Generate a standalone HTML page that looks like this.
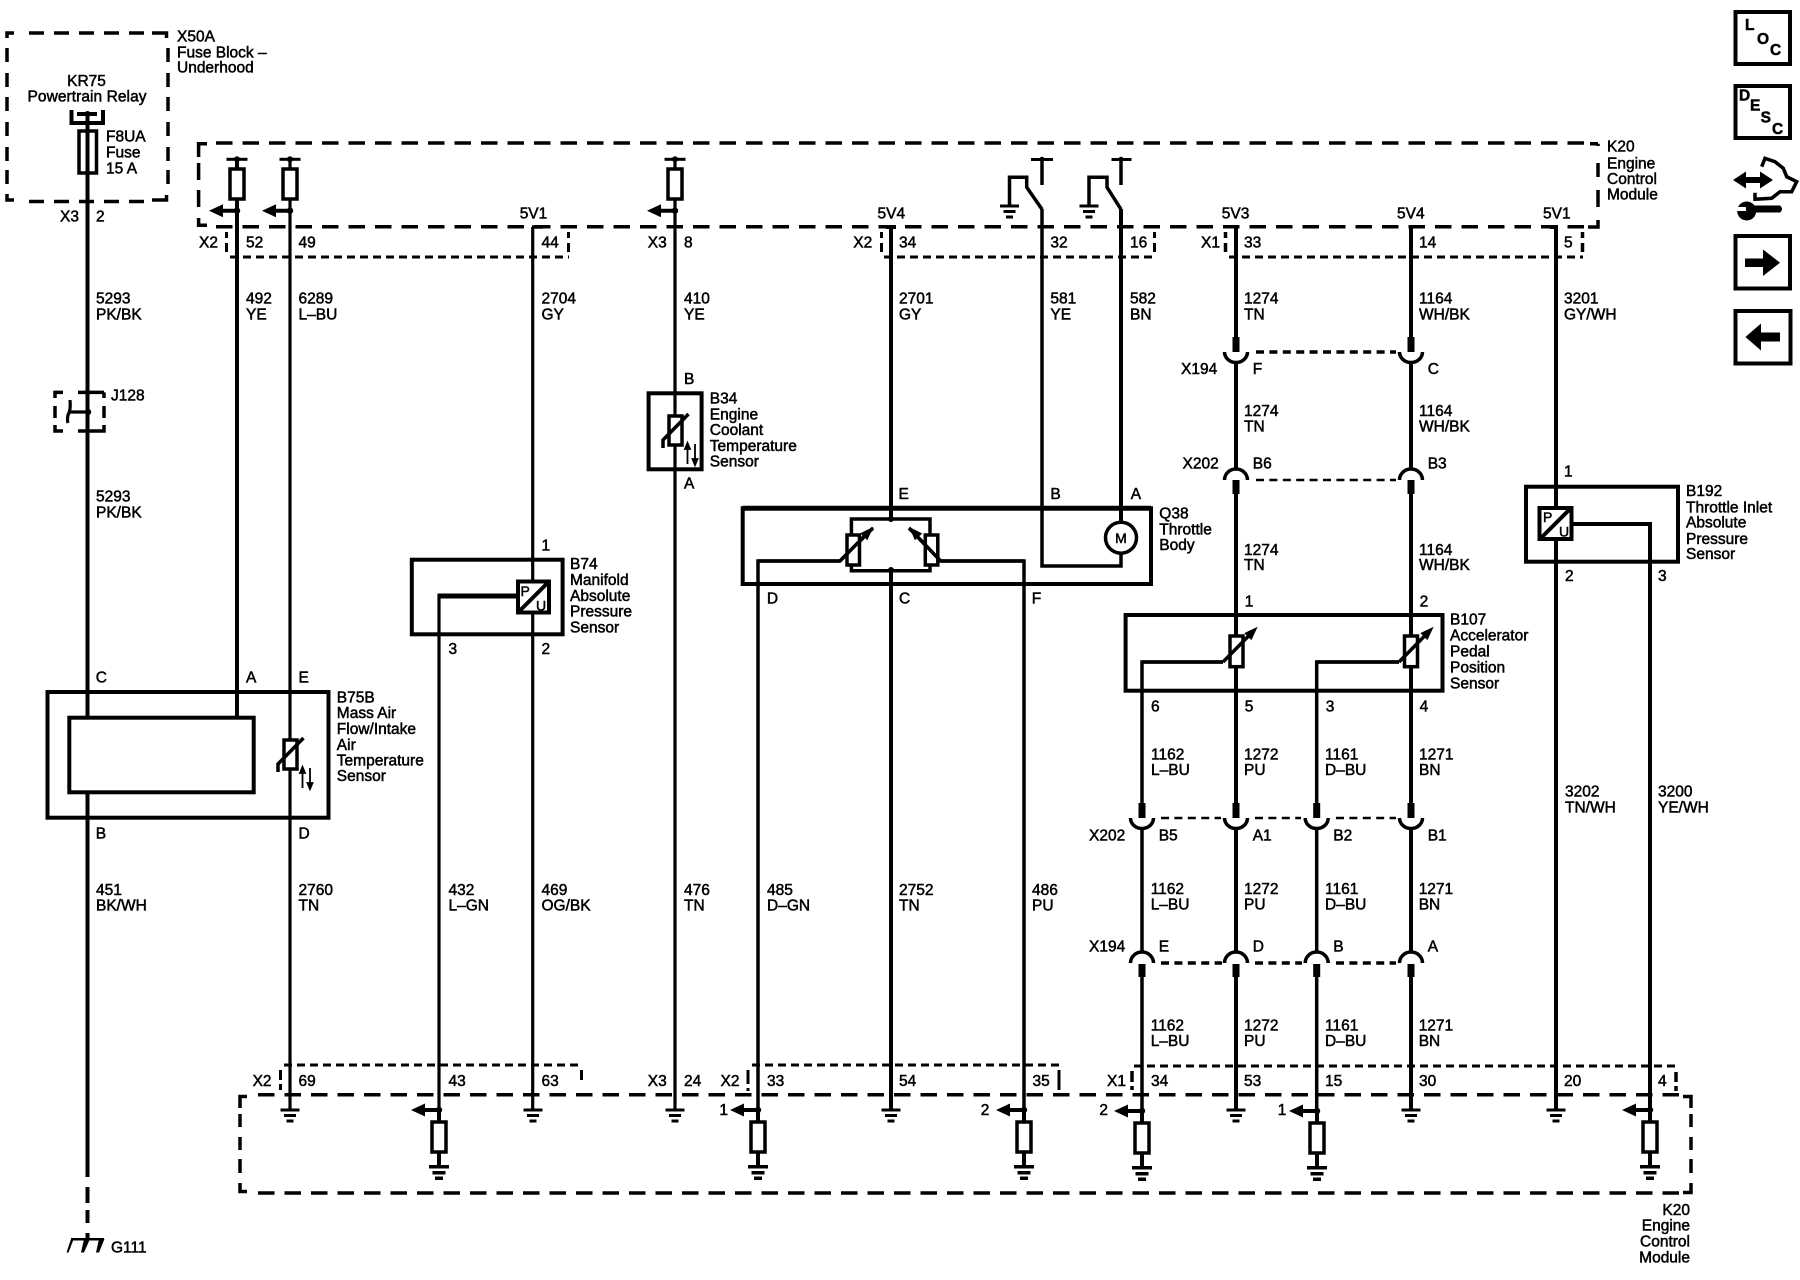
<!DOCTYPE html>
<html><head><meta charset="utf-8"><style>
html,body{margin:0;padding:0;background:#fff}
svg{display:block}
text{font:15.5px "Liberation Sans",sans-serif;fill:#000;stroke:#000;stroke-width:.5}
.w{fill:none;stroke:#000;stroke-width:4}
.t{fill:none;stroke:#000;stroke-width:3.2}
.d{fill:none;stroke:#000;stroke-width:3.5}
.s{fill:none;stroke:#000;stroke-width:3;stroke-dasharray:8 5}
.sv{fill:none;stroke:#000;stroke-width:3}
.h{fill:none;stroke:#000;stroke-width:3.5;stroke-dasharray:8 5.4}
.b{fill:#fff;stroke:#000;stroke-width:3.5}
.o{fill:none;stroke:#000;stroke-width:4}
.k{fill:#000}
</style></head><body>
<svg width="1800" height="1280" viewBox="0 0 1800 1280" xmlns="http://www.w3.org/2000/svg">
<defs>
<g id="g"><rect x="-9.5" y="-1.5" width="19" height="3"/><rect x="-6" y="4" width="12" height="3"/><rect x="-3.5" y="9.5" width="7" height="3"/></g>
<g id="a"><path d="M-28 0L-14 -6.5V-2H0V2H-14V6.5Z"/><circle r="3.2"/></g>
<g id="rg"><use href="#a"/><path d="M0 0V56" class="w"/><rect x="-7" y="12" width="14" height="30" class="b"/><rect x="-10" y="55" width="20" height="3.5"/><rect x="-6.5" y="61" width="13" height="3.5"/><rect x="-4" y="66.5" width="8" height="3.5"/></g>
<g id="f"><rect x="-10.5" y="-1.5" width="21" height="3"/><circle r="3"/><rect x="-7" y="9.7" width="14" height="30" class="b"/><use href="#a" y="51.4"/></g>
<g id="cup"><path d="M-11.5 0A11.5 10.5 0 0 0 11.5 0" class="d"/></g>
<g id="arch"><path d="M-11.5 0A11.5 11 0 0 1 11.5 0" class="d"/></g>
<g id="th"><rect x="-6.5" y="0" width="13" height="29" class="b"/><path d="M-12.5 32V24L13 -2" class="d"/><path d="M12 30V48M9.5 33L12 27L14.5 33Z M19.5 28V46M17 43L19.5 49L22 43Z" stroke="#000" stroke-width="1.8" fill="#000"/></g>
</defs>

<!-- X50A -->
<path class="d" d="M7 38V33H14M152 33H166.5V38M7 48V62M7 73V87M7 97V111M7 122V136M7 147V161M7 170V184M7 194V200H14M152 200H166.5V195M168 48V62M168 73V87M168 97V111M168 122V136M168 147V161M168 170V184"/>
<path class="d" stroke-dasharray="15 10" d="M29 33H150M29 201.5H150"/>
<text x="177" y="41.7">X50A</text><text x="177" y="57.3">Fuse Block –</text><text x="177" y="72.7">Underhood</text>
<text x="86.5" y="86" text-anchor="middle">KR75</text><text x="87" y="101.7" text-anchor="middle" textLength="119">Powertrain Relay</text>
<path class="w" d="M71.5 110V123H103V110"/><path class="w" d="M77 114H97"/><circle cx="87.5" cy="114" r="3"/>
<rect x="79" y="131" width="17.5" height="42" fill="none" stroke="#000" stroke-width="3.5"/>
<text x="106" y="141.7">F8UA</text><text x="106" y="157.7">Fuse</text><text x="106" y="173.3">15 A</text>
<text x="60" y="221.7">X3</text><text x="96" y="221.7">2</text>

<!-- K20 top -->
<path class="d" d="M198.6 157V143.7H207M198.6 163V180M198.6 190V207M198.6 218V225.3H207M1598 143.7H1590M1598 146V143.7M1598 163V177M1598 190V207M1598 220V227H1588"/>
<path class="d" stroke-dasharray="16.5 10" d="M216 143H1588M216 226.7H1588"/>
<text x="1607" y="151.7">K20</text><text x="1607" y="168.3">Engine</text><text x="1607" y="184">Control</text><text x="1607" y="199.3">Module</text>

<!-- top connector strips -->
<path class="s" d="M230 257H569M884 257H1155M1229 257H1583"/>
<path class="sv" d="M226.5 232V238M226.5 243V252M568.5 232V238M568.5 243V252M881.5 232V238M881.5 243V252M1154.5 232V238M1154.5 243V252"/>
<path class="d" d="M1225.5 232V238M1225.5 243V252M1582.5 232V238M1582.5 243V252"/>

<text x="199" y="247.3">X2</text><text x="246" y="247.3">52</text><text x="298.5" y="247.3">49</text><text x="541.5" y="247.3">44</text>
<text x="519.7" y="218.3">5V1</text><text x="877.5" y="218.3">5V4</text><text x="1221.8" y="218.3">5V3</text><text x="1397" y="218.3">5V4</text><text x="1543" y="218.3">5V1</text>
<text x="647.8" y="247.3">X3</text><text x="684" y="247.3">8</text><text x="853.3" y="247.3">X2</text><text x="899" y="247.3">34</text><text x="1050.4" y="247.3">32</text><text x="1130" y="247.3">16</text>
<text x="1201" y="247.3">X1</text><text x="1244" y="247.3">33</text><text x="1419" y="247.3">14</text><text x="1564" y="247.3">5</text>

<!-- main vertical wires -->
<path class="w" d="M87.5 114V1177M87.5 1187V1203M87.5 1210V1223M87.5 1233V1239"/>
<path class="w" d="M237 159V718"/>
<path class="t" d="M290 159V740M290 769V1110"/>
<path class="t" d="M532.7 227V1110"/>
<path class="d" d="M532 227H543"/>
<path class="t" d="M439 1110V596"/>
<path class="w" style="stroke-width:5" d="M437.5 596H517"/>
<path class="t" d="M675 159V1110"/>
<path class="w" d="M891 227V519M891 570V1110M886 227H896"/>
<path class="d" d="M758 1110V561H840L873 528"/>
<path class="d" d="M1024 1110V561H940.6L909 528"/>
<path class="d" d="M1042 209V566H1121V554"/>
<path class="d" d="M1042 159V185M1121 159V185"/>
<path class="w" d="M1121 209V522"/>
<path class="w" d="M1236 227V337M1236 362V468M1236 494V803M1236 829V952M1236 977V1110"/>
<path class="w" d="M1411 227V337M1411 362V468M1411 494V803M1411 829V952M1411 977V1110"/>
<path class="d" d="M1142 803V662H1223M1142 829V952M1142 977V1110"/>
<path class="d" d="M1316.7 803V662H1399M1316.7 829V952M1316.7 977V1110"/>
<path class="w" d="M1556 227V1110M1550 227H1558"/>
<path class="w" d="M1650 1122V524H1573"/>

<!-- top fuses -->
<use href="#f" x="237" y="159.3"/><use href="#f" x="290" y="159.3"/><use href="#f" x="675" y="159.3"/>

<!-- switches -->
<rect x="1031" y="158" width="22" height="3"/><circle cx="1042" cy="159.3" r="2.5"/>
<rect x="1111.5" y="158" width="20" height="3"/><circle cx="1121" cy="159.3" r="2.5"/>
<path class="d" d="M1009.5 205V177.3H1026.7V187.3L1042 209.3"/>
<path class="d" d="M1089 205V177.3H1107V187.3L1121 209.3"/>
<use href="#g" x="1009.5" y="206"/><use href="#g" x="1089" y="206"/>

<!-- wire labels upper -->
<text x="96" y="303.3">5293</text><text x="96" y="319.3">PK/BK</text>
<text x="246" y="303.3">492</text><text x="246" y="319.3">YE</text>
<text x="298.5" y="303.3">6289</text><text x="298.5" y="319.3">L–BU</text>
<text x="541.5" y="303.3">2704</text><text x="541.5" y="319.3">GY</text>
<text x="684" y="303.3">410</text><text x="684" y="319.3">YE</text>
<text x="899" y="303.3">2701</text><text x="899" y="319.3">GY</text>
<text x="1050.4" y="303.3">581</text><text x="1050.4" y="319.3">YE</text>
<text x="1130" y="303.3">582</text><text x="1130" y="319.3">BN</text>
<text x="1244" y="303.3">1274</text><text x="1244" y="319.3">TN</text>
<text x="1419" y="303.3">1164</text><text x="1419" y="319.3">WH/BK</text>
<text x="1564" y="303.3">3201</text><text x="1564" y="319.3">GY/WH</text>

<!-- J128 -->
<path class="d" d="M55 398V392.4H63M78 392.4H96M104 392.4H96M104 392.4V398M55 406V418M104 406V418M55 425V431H63M78 431H96M104 425V431H96"/>
<circle cx="88" cy="412" r="3.2"/><path class="t" d="M88 412H69M70 400Q71 410 68 415Q67 420 68 423"/>
<text x="111" y="400.7">J128</text>
<text x="96" y="501.5">5293</text><text x="96" y="517.5">PK/BK</text>

<!-- X194/X202 upper -->
<rect x="1232.5" y="337" width="7" height="15"/><rect x="1407.5" y="337" width="7" height="15"/>
<use href="#cup" x="1236" y="352"/><use href="#cup" x="1411" y="352"/>
<path class="h" d="M1256 352H1396"/>
<text x="1181" y="374">X194</text><text x="1252.8" y="374">F</text><text x="1427.7" y="374">C</text>
<text x="1244" y="416">1274</text><text x="1244" y="431.7">TN</text>
<text x="1419" y="416">1164</text><text x="1419" y="431.7">WH/BK</text>
<use href="#arch" x="1236" y="480"/><use href="#arch" x="1411" y="480"/>
<path class="h" style="stroke-width:2.5" d="M1256 480H1396"/>
<rect x="1232.5" y="480" width="7" height="14"/><rect x="1407.5" y="480" width="7" height="14"/>
<text x="1182.5" y="468.3">X202</text><text x="1252.8" y="468.3">B6</text><text x="1427.7" y="468.3">B3</text>
<text x="1244" y="555">1274</text><text x="1244" y="570">TN</text>
<text x="1419" y="555">1164</text><text x="1419" y="570">WH/BK</text>

<!-- B34 -->
<rect x="648.6" y="393.3" width="53" height="76" class="o"/>
<use href="#th" x="675.5" y="416"/>
<text x="684" y="384">B</text><text x="684" y="488.3">A</text>
<text x="709.8" y="403.3">B34</text><text x="709.8" y="419.3">Engine</text><text x="709.8" y="435">Coolant</text><text x="709.8" y="451">Temperature</text><text x="709.8" y="466.7">Sensor</text>

<!-- B74 -->
<rect x="411.8" y="559.7" width="150.8" height="74.6" class="o"/>
<rect x="518" y="581.5" width="31" height="31" fill="#fff" stroke="#000" stroke-width="4"/>
<path class="w" d="M518 612.5L549 581.5"/>
<text x="520.5" y="596" style="font-size:14px">P</text><text x="536" y="610.5" style="font-size:14px">U</text>
<text x="541.5" y="550.7">1</text><text x="448.5" y="654">3</text><text x="541.5" y="654">2</text>
<text x="570" y="569">B74</text><text x="570" y="585">Manifold</text><text x="570" y="601">Absolute</text><text x="570" y="616.7">Pressure</text><text x="570" y="632.7">Sensor</text>

<!-- Q38 -->
<path class="o" d="M742.7 584V508.3H1151V584Z"/><path d="M742.7 508.3H1151" stroke="#000" stroke-width="5"/>
<path class="d" d="M851.4 536V519H930V536M851.4 565V570.7H930V565"/>
<circle cx="891" cy="519" r="3"/><circle cx="891" cy="570" r="3"/>
<rect x="847" y="535" width="12.5" height="30" class="b"/><rect x="925.3" y="535" width="12.5" height="30" class="b"/>
<path class="d" d="M840 561L868 532.5M940.6 561L914 533"/>
<path d="M873.6 526.7L867.3 540.2L860.3 533.2Z M909 526.7L922.2 533.5L914.9 540.3Z"/>
<path class="d" d="M758 561H840M1024 561H940.6"/>
<circle cx="1121" cy="537.7" r="15.5" fill="#fff" stroke="#000" stroke-width="3.5"/>
<text x="1121" y="543" text-anchor="middle" style="font-size:14px">M</text>
<text x="898.5" y="499">E</text><text x="1050.4" y="499">B</text><text x="1130.8" y="499">A</text>
<text x="766.9" y="603.3">D</text><text x="899" y="603.3">C</text><text x="1031.7" y="603.3">F</text>
<text x="1159.3" y="518.3">Q38</text><text x="1159.3" y="534.3">Throttle</text><text x="1159.3" y="550">Body</text>

<!-- B192 -->
<rect x="1526" y="486.7" width="152" height="75" class="o"/>
<rect x="1539.5" y="508" width="32" height="31" fill="#fff" stroke="#000" stroke-width="4"/>
<path class="w" d="M1540 539L1571 508"/>
<text x="1543" y="522" style="font-size:14px">P</text><text x="1559" y="536.5" style="font-size:14px">U</text>
<path class="d" d="M1571 524H1650"/>
<text x="1564" y="476.7">1</text><text x="1565" y="581">2</text><text x="1658" y="581">3</text>
<text x="1686" y="496">B192</text><text x="1686" y="512.3">Throttle Inlet</text><text x="1686" y="527.7">Absolute</text><text x="1686" y="544">Pressure</text><text x="1686" y="559">Sensor</text>

<!-- B107 -->
<rect x="1125.6" y="615" width="316.9" height="75.7" class="o"/>
<rect x="1230" y="636" width="13" height="30.7" class="b"/><rect x="1404.5" y="636" width="13" height="30.7" class="b"/>
<path class="d" d="M1223 662L1250 634.5M1399 662L1426 634.5"/>
<path d="M1257.7 626.7L1251.4 640.1L1244.3 633.1Z M1433.7 626.7L1427.4 640.1L1420.3 633.1Z"/>
<path class="d" d="M1142 662H1223M1316.7 662H1399"/>
<text x="1244.7" y="606.7">1</text><text x="1419.6" y="606.7">2</text>
<text x="1450" y="624.3">B107</text><text x="1450" y="640.7">Accelerator</text><text x="1450" y="656.7">Pedal</text><text x="1450" y="672.7">Position</text><text x="1450" y="688.3">Sensor</text>
<text x="1151" y="711.7">6</text><text x="1244.7" y="711.7">5</text><text x="1325.8" y="711.7">3</text><text x="1419.6" y="711.7">4</text>
<text x="1151" y="759.3">1162</text><text x="1151" y="775">L–BU</text>
<text x="1244" y="759.3">1272</text><text x="1244" y="775">PU</text>
<text x="1325" y="759.3">1161</text><text x="1325" y="775">D–BU</text>
<text x="1419" y="759.3">1271</text><text x="1419" y="775">BN</text>
<text x="1565" y="796.7">3202</text><text x="1565" y="812.3">TN/WH</text>
<text x="1658" y="796.7">3200</text><text x="1658" y="812.3">YE/WH</text>

<!-- X202 / X194 lower -->
<g><rect x="1138.5" y="803" width="7" height="15"/><rect x="1232.5" y="803" width="7" height="15"/><rect x="1313.2" y="803" width="7" height="15"/><rect x="1407.5" y="803" width="7" height="15"/>
<use href="#cup" x="1142" y="818"/><use href="#cup" x="1236" y="818"/><use href="#cup" x="1316.7" y="818"/><use href="#cup" x="1411" y="818"/></g>
<path class="h" style="stroke-width:2.5" d="M1161 818H1221M1255 818H1301M1336 818H1396"/>
<text x="1089" y="840.7">X202</text><text x="1158.7" y="840.7">B5</text><text x="1252.7" y="840.7">A1</text><text x="1333.3" y="840.7">B2</text><text x="1427.7" y="840.7">B1</text>
<text x="1150.7" y="894">1162</text><text x="1150.7" y="909.5">L–BU</text>
<text x="1244" y="894">1272</text><text x="1244" y="909.5">PU</text>
<text x="1325" y="894">1161</text><text x="1325" y="909.5">D–BU</text>
<text x="1418.7" y="894">1271</text><text x="1418.7" y="909.5">BN</text>
<text x="1089" y="951.7">X194</text><text x="1158.7" y="951.7">E</text><text x="1252.7" y="951.7">D</text><text x="1333.3" y="951.7">B</text><text x="1427.7" y="951.7">A</text>
<use href="#arch" x="1142" y="963"/><use href="#arch" x="1236" y="963"/><use href="#arch" x="1316.7" y="963"/><use href="#arch" x="1411" y="963"/>
<path class="h" d="M1161 963H1222M1255 963H1302M1336 963H1396"/>
<rect x="1138.5" y="964" width="7" height="13"/><rect x="1232.5" y="964" width="7" height="13"/><rect x="1313.2" y="964" width="7" height="13"/><rect x="1407.5" y="964" width="7" height="13"/>
<text x="1150.7" y="1030.7">1162</text><text x="1150.7" y="1046">L–BU</text>
<text x="1244" y="1030.7">1272</text><text x="1244" y="1046">PU</text>
<text x="1325" y="1030.7">1161</text><text x="1325" y="1046">D–BU</text>
<text x="1418.7" y="1030.7">1271</text><text x="1418.7" y="1046">BN</text>

<!-- B75B -->
<rect x="47.5" y="692" width="281" height="125.7" class="o"/>
<rect x="69.3" y="717.7" width="184.4" height="74.6" fill="#fff" stroke="#000" stroke-width="4"/>
<use href="#th" x="290.5" y="740"/>
<text x="95.7" y="682.7">C</text><text x="246" y="682.7">A</text><text x="298.5" y="682.7">E</text>
<text x="95.7" y="838.3">B</text><text x="298.5" y="838.3">D</text>
<text x="336.8" y="702.3">B75B</text><text x="336.8" y="718">Mass Air</text><text x="336.8" y="734">Flow/Intake</text><text x="336.8" y="750">Air</text><text x="336.8" y="765.7">Temperature</text><text x="336.8" y="781">Sensor</text>

<!-- lower wire labels -->
<text x="96" y="895">451</text><text x="96" y="910.7">BK/WH</text>
<text x="298.5" y="895">2760</text><text x="298.5" y="910.7">TN</text>
<text x="448.5" y="895">432</text><text x="448.5" y="910.7">L–GN</text>
<text x="541.5" y="895">469</text><text x="541.5" y="910.7">OG/BK</text>
<text x="684" y="895">476</text><text x="684" y="910.7">TN</text>
<text x="767" y="895">485</text><text x="767" y="910.7">D–GN</text>
<text x="899" y="895">2752</text><text x="899" y="910.7">TN</text>
<text x="1032" y="895">486</text><text x="1032" y="910.7">PU</text>

<!-- bottom strips -->
<path class="s" d="M284 1065H582M752 1065H1059M1134 1066H1676"/>
<path class="sv" d="M280.5 1070V1080M280.5 1084V1090M581.5 1070V1080M748 1070V1084M748 1088V1091M1059 1070V1090"/>
<path class="d" d="M1132 1071V1082M1132 1086V1090M1676 1072V1082M1676 1086V1091"/>
<text x="252.6" y="1086">X2</text><text x="298.5" y="1086">69</text><text x="448.5" y="1086">43</text><text x="541.5" y="1086">63</text>
<text x="647.8" y="1086">X3</text><text x="684" y="1086">24</text><text x="720.5" y="1086">X2</text><text x="767" y="1086">33</text><text x="899" y="1086">54</text><text x="1032.5" y="1086">35</text>
<text x="1107" y="1086">X1</text><text x="1151" y="1086">34</text><text x="1244" y="1086">53</text><text x="1325" y="1086">15</text><text x="1419" y="1086">30</text><text x="1564" y="1086">20</text><text x="1658" y="1086">4</text>

<!-- K20 lower -->
<path class="d" d="M240 1108V1096.5H247M240 1114V1127M240 1137V1150M240 1159V1173M240 1183V1191.5H247M1691 1108V1096.5H1683M1691 1114V1127M1691 1137V1150M1691 1159V1173M1691 1183V1192.5H1683"/>
<path class="d" stroke-dasharray="16.5 10" d="M258 1094.7H1683M258 1193H1683"/>
<text x="1690" y="1215" text-anchor="end">K20</text><text x="1690" y="1230.7" text-anchor="end">Engine</text><text x="1690" y="1246.7" text-anchor="end">Control</text><text x="1690" y="1262.3" text-anchor="end">Module</text>

<!-- grounds -->
<use href="#g" x="290" y="1110"/><use href="#g" x="533" y="1110"/><use href="#g" x="675" y="1110"/><use href="#g" x="891" y="1110"/><use href="#g" x="1236" y="1110"/><use href="#g" x="1411" y="1110"/><use href="#g" x="1556" y="1110"/>
<use href="#rg" x="439" y="1110"/><use href="#rg" x="758" y="1110"/><use href="#rg" x="1024" y="1110"/><use href="#rg" x="1142" y="1111"/><use href="#rg" x="1317" y="1111"/><use href="#rg" x="1650" y="1110"/>
<text x="719.4" y="1115">1</text><text x="980.8" y="1115">2</text><text x="1099.4" y="1115">2</text><text x="1277.7" y="1115">1</text>

<!-- G111 -->
<path d="M71 1238H104V1240.5H71Z M71 1239L73.5 1239.5L68.5 1252.5H66.5Z M84 1239H90L84 1252.5H81Z M99 1239H104.5L99 1252.5H96Z"/>
<text x="111" y="1252.7">G111</text>

<!-- right icons -->
<rect x="1735.5" y="12" width="54.5" height="52" fill="none" stroke="#000" stroke-width="4"/>
<text x="1745" y="30" font-weight="bold" style="font-weight:bold">L</text><text x="1757" y="44" style="font-weight:bold">O</text><text x="1770" y="55" style="font-weight:bold">C</text>
<rect x="1735.5" y="86" width="54.5" height="52" fill="none" stroke="#000" stroke-width="4"/>
<text x="1739" y="100.7" style="font-weight:bold">D</text><text x="1750" y="110.7" style="font-weight:bold">E</text><text x="1760.6" y="122.7" style="font-weight:bold">S</text><text x="1772" y="134" style="font-weight:bold">C</text>
<path d="M1733 180L1746 171.5V177H1760V171.5L1773 180L1760 188.5V183H1746V188.5Z"/>
<path class="d" d="M1755 192.7V199.3L1771.7 198.3L1780 191.7H1791.7L1796.7 181.7L1786.7 176.7L1783.3 168.3L1775 161.7L1765 158.3L1761.7 166.7"/>
<path d="M1750 205.5H1780Q1784 209 1780 212.5H1750Z"/>
<circle cx="1746.7" cy="211" r="9.5"/><rect x="1737" y="207" width="9" height="4" fill="#fff"/>
<rect x="1735.5" y="236" width="54.5" height="52.5" fill="none" stroke="#000" stroke-width="4"/>
<path d="M1745 258.5H1763V249.5L1780 262.7L1763 276V267H1745Z"/>
<rect x="1735.5" y="311" width="55" height="52.5" fill="none" stroke="#000" stroke-width="4"/>
<path d="M1780 332.5H1761V323.5L1745.4 337L1761 350.5V341.5H1780Z"/>
</svg>
</body></html>
